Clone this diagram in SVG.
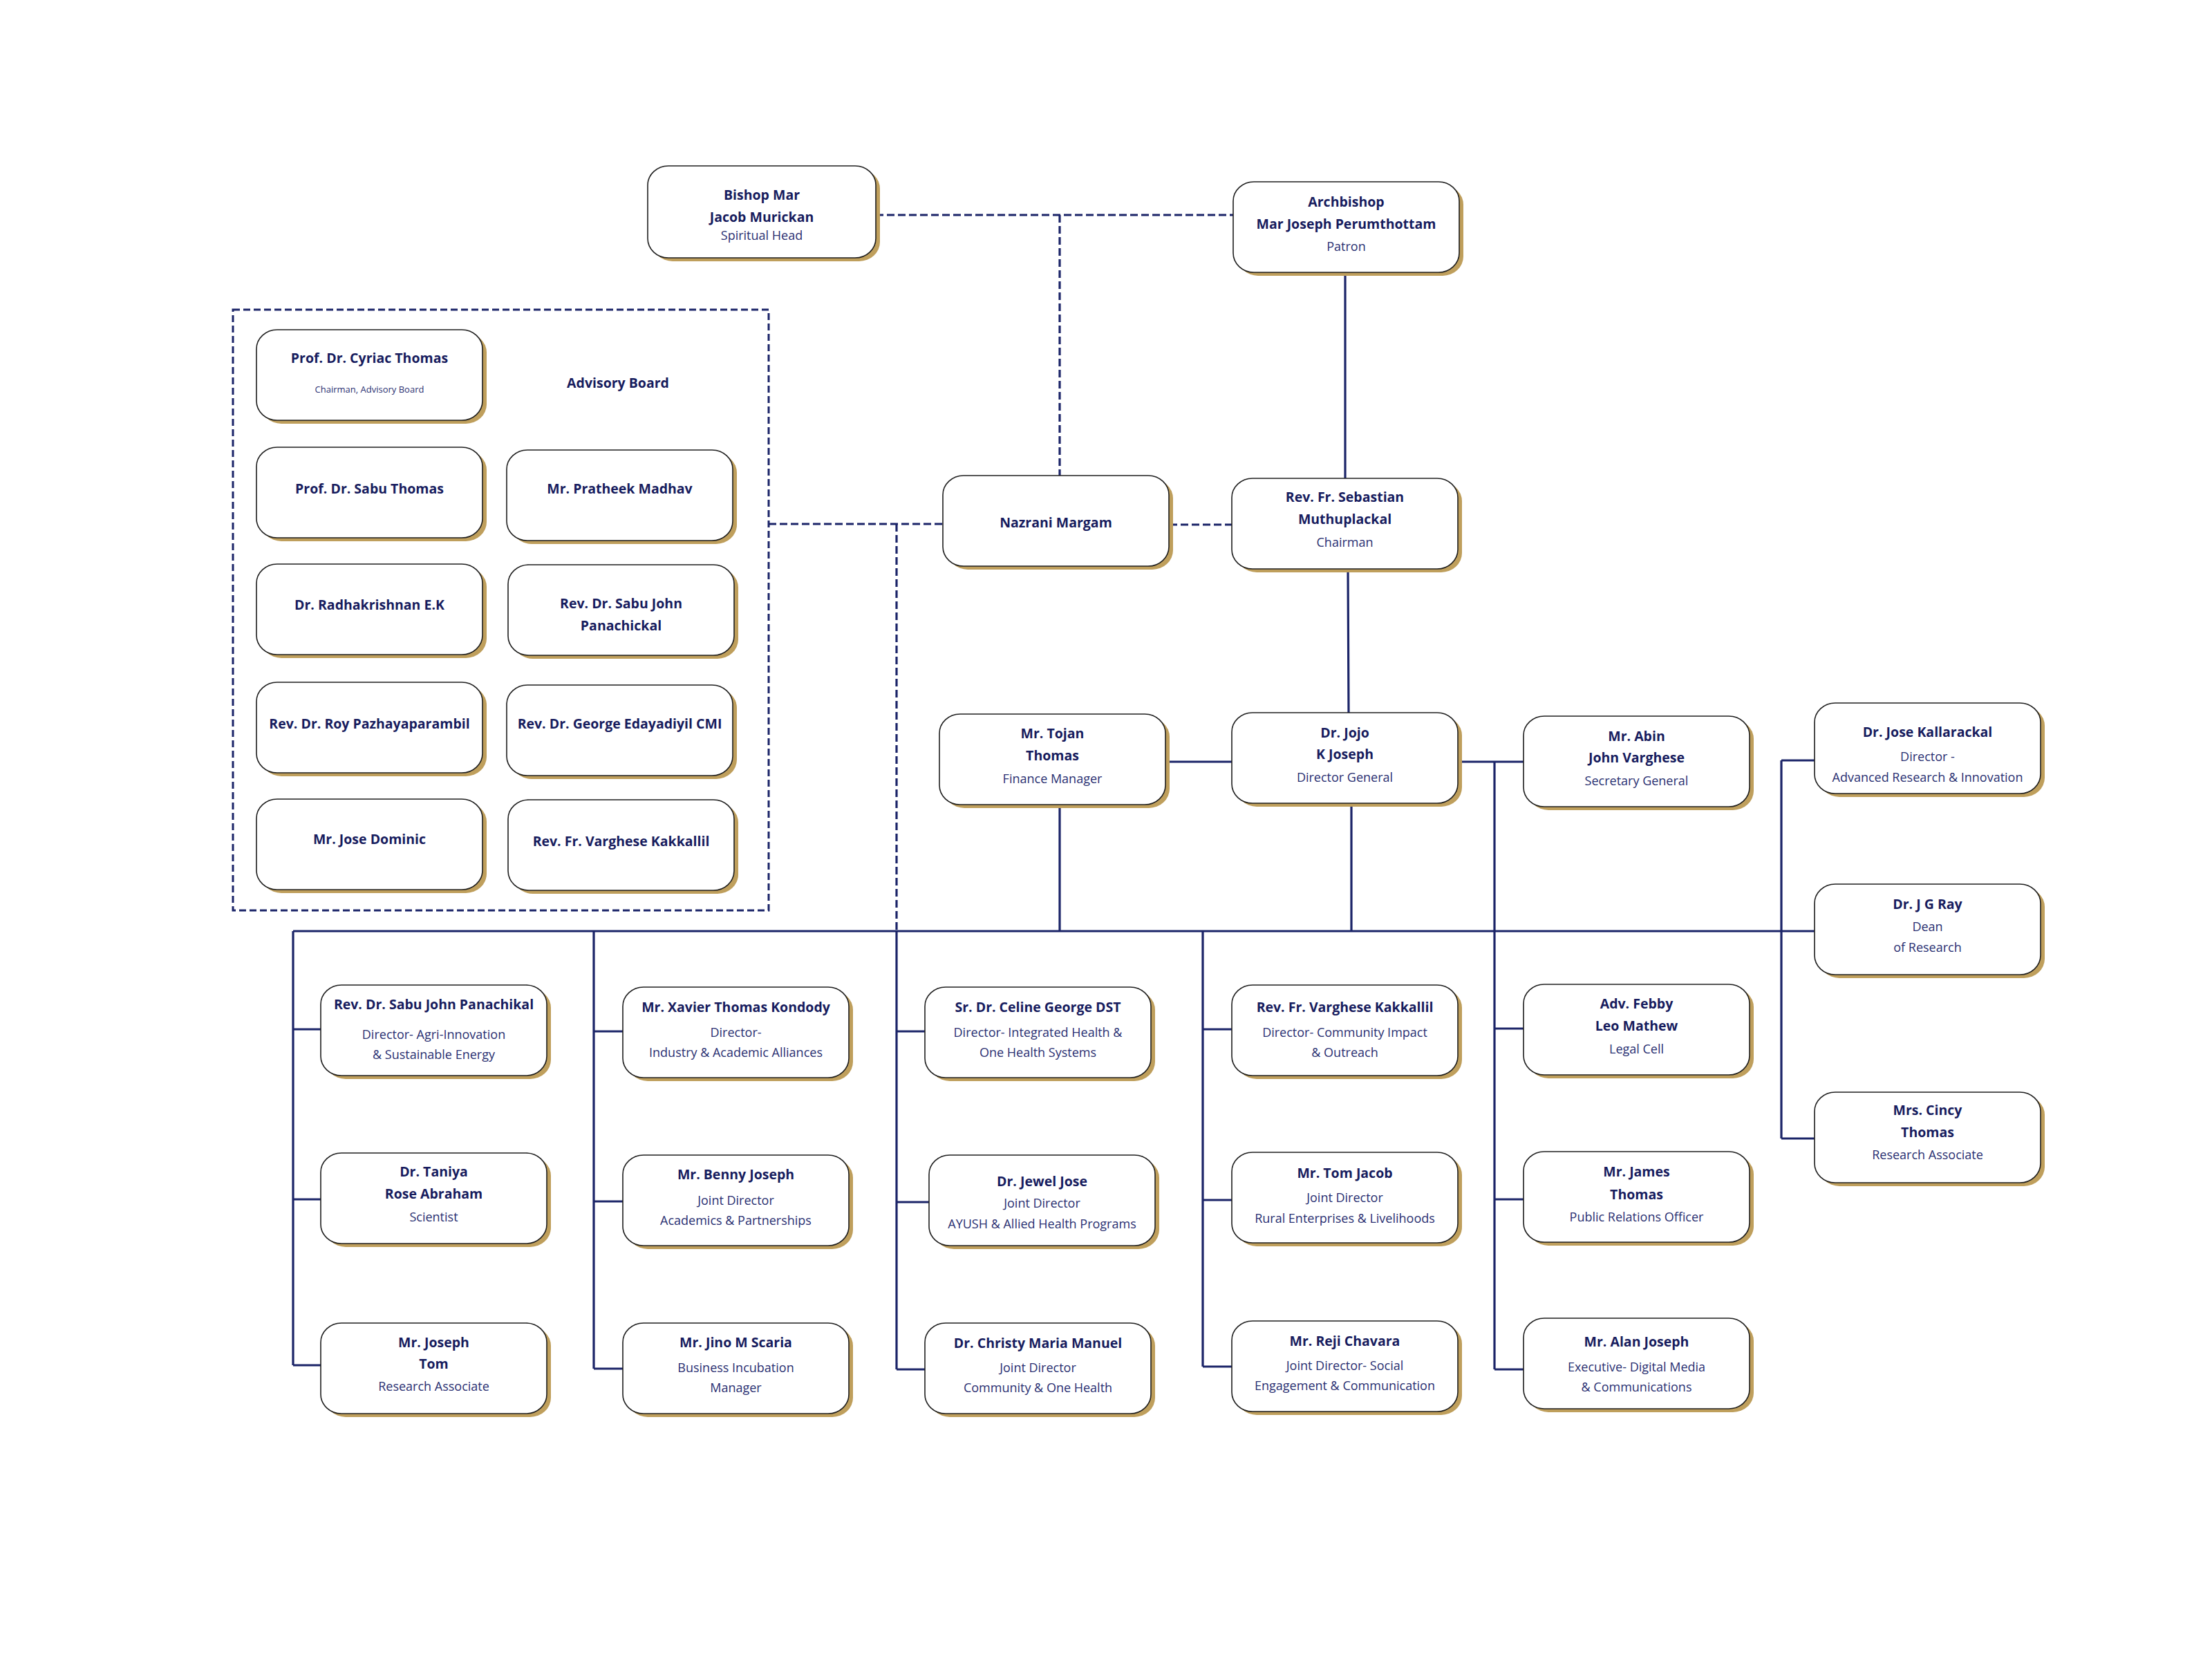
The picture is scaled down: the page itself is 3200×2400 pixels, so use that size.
<svg xmlns="http://www.w3.org/2000/svg" width="3200" height="2400" viewBox="0 0 3200 2400">
<style>
.sh{fill:#bf9f5c}
.bx{fill:#fff;stroke:#1f1f1f;stroke-width:1.6}
.n{font-family:"Open Sans","Liberation Sans",sans-serif;font-weight:700;font-size:19.5px;fill:#171c5e;text-anchor:middle}
.t{font-family:"Open Sans","Liberation Sans",sans-serif;font-weight:400;font-size:18px;fill:#2a3072;text-anchor:middle}
.s{font-size:13px}
.ln{stroke:#1b2468;stroke-width:3.2;fill:none}
.dl{stroke:#1b2468;stroke-width:3.2;stroke-dasharray:11 5;fill:none}
.frame{stroke:#1b2468;stroke-width:3;stroke-dasharray:10 5;fill:none}
</style>
<defs>
<g id="card"><rect class="sh" x="6" y="5" width="327" height="131" rx="30" ry="28"/><rect class="bx" x="0" y="0" width="327" height="131" rx="30" ry="28"/></g>
</defs>
<rect width="3200" height="2400" fill="#fff"/>

<g id="connectors">
<path class="dl" d="M1267 311H1784M1533 311V688M1112 758H1364M1297 758V1347M1692 759H1782"/>
<path class="ln" d="M1946 395L1946 692M1950 822L1951 1031M1687 1102H1782M2109 1102H2204M1533 1164V1347M1955 1162V1347M424 1347H2625"/>
<path class="ln" d="M424 1347V1975M424 1489H464M424 1735H464M424 1975H464"/>
<path class="ln" d="M859 1347V1980M859 1492H901M859 1738H901M859 1980H901"/>
<path class="ln" d="M1297 1347V1981M1297 1492H1338M1297 1739H1344M1297 1981H1338"/>
<path class="ln" d="M1740 1347V1977M1740 1489H1782M1740 1736H1782M1740 1977H1782"/>
<path class="ln" d="M2162 1102V1981M2162 1488H2204M2162 1735H2204M2162 1981H2204"/>
<path class="ln" d="M2577 1100V1647M2577 1100H2625M2577 1647H2625"/>
</g>

<g id="advisory-board">
<rect class="frame" x="337" y="448" width="775" height="869"/>
<text class="n" x="894" y="561">Advisory Board</text>
</g>

<g id="bishop" transform="translate(937,240)">
<rect class="sh" x="6" y="5" width="330" height="133" rx="30" ry="28"/><rect class="bx" width="330" height="133" rx="30" ry="28"/>
<text class="n" x="165" y="49">Bishop Mar</text><text class="n" x="165" y="81">Jacob Murickan</text><text class="t" x="165" y="107">Spiritual Head</text>
</g>
<g id="archbishop" transform="translate(1784,263)"><use href="#card"/>
<text class="n" x="163.5" y="36">Archbishop</text><text class="n" x="163.5" y="68">Mar Joseph Perumthottam</text><text class="t" x="163.5" y="100">Patron</text></g>
<g id="nazrani" transform="translate(1364,688)"><use href="#card"/>
<text class="n" x="163.5" y="75">Nazrani Margam</text></g>
<g id="chairman" transform="translate(1782,692)"><use href="#card"/>
<text class="n" x="163.5" y="34">Rev. Fr. Sebastian</text><text class="n" x="163.5" y="66">Muthuplackal</text><text class="t" x="163.5" y="99">Chairman</text></g>

<g id="cyriac" transform="translate(371,477)"><use href="#card"/>
<text class="n" x="163.5" y="48">Prof. Dr. Cyriac Thomas</text><text class="t s" x="163.5" y="91">Chairman, Advisory Board</text></g>
<g id="sabu-thomas" transform="translate(371,647)"><use href="#card"/><text class="n" x="163.5" y="67">Prof. Dr. Sabu Thomas</text></g>
<g id="pratheek" transform="translate(733,651)"><use href="#card"/><text class="n" x="163.5" y="63">Mr. Pratheek Madhav</text></g>
<g id="radhakrishnan" transform="translate(371,816)"><use href="#card"/><text class="n" x="163.5" y="66">Dr. Radhakrishnan E.K</text></g>
<g id="sabu-john-adv" transform="translate(735,817)"><use href="#card"/><text class="n" x="163.5" y="63">Rev. Dr. Sabu John</text><text class="n" x="163.5" y="95">Panachickal</text></g>
<g id="roy" transform="translate(371,987)"><use href="#card"/><text class="n" x="163.5" y="67">Rev. Dr. Roy Pazhayaparambil</text></g>
<g id="george" transform="translate(733,991)"><use href="#card"/><text class="n" x="163.5" y="63">Rev. Dr. George Edayadiyil CMI</text></g>
<g id="jose-dominic" transform="translate(371,1156)"><use href="#card"/><text class="n" x="163.5" y="65">Mr. Jose Dominic</text></g>
<g id="varghese-adv" transform="translate(735,1157)"><use href="#card"/><text class="n" x="163.5" y="67">Rev. Fr. Varghese Kakkallil</text></g>

<g id="tojan" transform="translate(1359,1033)"><use href="#card"/>
<text class="n" x="163.5" y="35">Mr. Tojan</text><text class="n" x="163.5" y="67">Thomas</text><text class="t" x="163.5" y="100">Finance Manager</text></g>
<g id="director-general" transform="translate(1782,1031)"><use href="#card"/>
<text class="n" x="163.5" y="36">Dr. Jojo</text><text class="n" x="163.5" y="67">K Joseph</text><text class="t" x="163.5" y="100">Director General</text></g>
<g id="abin" transform="translate(2204,1036)"><use href="#card"/>
<text class="n" x="163.5" y="36">Mr. Abin</text><text class="n" x="163.5" y="67">John Varghese</text><text class="t" x="163.5" y="100">Secretary General</text></g>
<g id="jose-kallarackal" transform="translate(2625,1017)"><use href="#card"/>
<text class="n" x="163.5" y="49">Dr. Jose Kallarackal</text><text class="t" x="163.5" y="84">Director -</text><text class="t" x="163.5" y="114">Advanced Research &amp; Innovation</text></g>
<g id="jg-ray" transform="translate(2625,1279)"><use href="#card"/>
<text class="n" x="163.5" y="36">Dr. J G Ray</text><text class="t" x="163.5" y="68">Dean</text><text class="t" x="163.5" y="98">of Research</text></g>
<g id="cincy" transform="translate(2625,1580)"><use href="#card"/>
<text class="n" x="163.5" y="33">Mrs. Cincy</text><text class="n" x="163.5" y="65">Thomas</text><text class="t" x="163.5" y="97">Research Associate</text></g>

<g id="sabu-john-panachikal" transform="translate(464,1425)"><use href="#card"/>
<text class="n" x="163.5" y="35">Rev. Dr. Sabu John Panachikal</text><text class="t" x="163.5" y="78">Director-  Agri-Innovation</text><text class="t" x="163.5" y="107">&amp; Sustainable Energy</text></g>
<g id="taniya" transform="translate(464,1668)"><use href="#card"/>
<text class="n" x="163.5" y="34">Dr. Taniya</text><text class="n" x="163.5" y="66">Rose Abraham</text><text class="t" x="163.5" y="99">Scientist</text></g>
<g id="joseph-tom" transform="translate(464,1914)"><use href="#card"/>
<text class="n" x="163.5" y="35">Mr. Joseph</text><text class="n" x="163.5" y="66">Tom</text><text class="t" x="163.5" y="98">Research Associate</text></g>

<g id="xavier" transform="translate(901,1428)"><use href="#card"/>
<text class="n" x="163.5" y="36">Mr. Xavier Thomas Kondody</text><text class="t" x="163.5" y="72">Director-</text><text class="t" x="163.5" y="101">Industry &amp; Academic Alliances</text></g>
<g id="benny" transform="translate(901,1671)"><use href="#card"/>
<text class="n" x="163.5" y="35">Mr. Benny Joseph</text><text class="t" x="163.5" y="72">Joint Director</text><text class="t" x="163.5" y="101">Academics &amp; Partnerships</text></g>
<g id="jino" transform="translate(901,1914)"><use href="#card"/>
<text class="n" x="163.5" y="35">Mr. Jino M Scaria</text><text class="t" x="163.5" y="71">Business Incubation</text><text class="t" x="163.5" y="100">Manager</text></g>

<g id="celine" transform="translate(1338,1428)"><use href="#card"/>
<text class="n" x="163.5" y="36">Sr. Dr. Celine George DST</text><text class="t" x="163.5" y="72">Director- Integrated Health &amp;</text><text class="t" x="163.5" y="101">One Health Systems</text></g>
<g id="jewel" transform="translate(1344,1671)"><use href="#card"/>
<text class="n" x="163.5" y="45">Dr. Jewel Jose</text><text class="t" x="163.5" y="76">Joint Director</text><text class="t" x="163.5" y="106">AYUSH &amp; Allied Health Programs</text></g>
<g id="christy" transform="translate(1338,1914)"><use href="#card"/>
<text class="n" x="163.5" y="36">Dr. Christy Maria Manuel</text><text class="t" x="163.5" y="71">Joint Director</text><text class="t" x="163.5" y="100">Community &amp; One Health</text></g>

<g id="varghese" transform="translate(1782,1425)"><use href="#card"/>
<text class="n" x="163.5" y="39">Rev. Fr. Varghese Kakkallil</text><text class="t" x="163.5" y="75">Director- Community Impact</text><text class="t" x="163.5" y="104">&amp; Outreach</text></g>
<g id="tom-jacob" transform="translate(1782,1667)"><use href="#card"/>
<text class="n" x="163.5" y="37">Mr. Tom Jacob</text><text class="t" x="163.5" y="72">Joint Director</text><text class="t" x="163.5" y="102">Rural Enterprises &amp; Livelihoods</text></g>
<g id="reji" transform="translate(1782,1911)"><use href="#card"/>
<text class="n" x="163.5" y="36">Mr. Reji Chavara</text><text class="t" x="163.5" y="71">Joint Director- Social</text><text class="t" x="163.5" y="100">Engagement &amp; Communication</text></g>

<g id="febby" transform="translate(2204,1424)"><use href="#card"/>
<text class="n" x="163.5" y="35">Adv. Febby</text><text class="n" x="163.5" y="67">Leo Mathew</text><text class="t" x="163.5" y="100">Legal Cell</text></g>
<g id="james" transform="translate(2204,1666)"><use href="#card"/>
<text class="n" x="163.5" y="36">Mr. James</text><text class="n" x="163.5" y="69">Thomas</text><text class="t" x="163.5" y="101">Public Relations Officer</text></g>
<g id="alan" transform="translate(2204,1907)"><use href="#card"/>
<text class="n" x="163.5" y="41">Mr. Alan Joseph</text><text class="t" x="163.5" y="77">Executive- Digital Media</text><text class="t" x="163.5" y="106">&amp; Communications</text></g>
</svg>
